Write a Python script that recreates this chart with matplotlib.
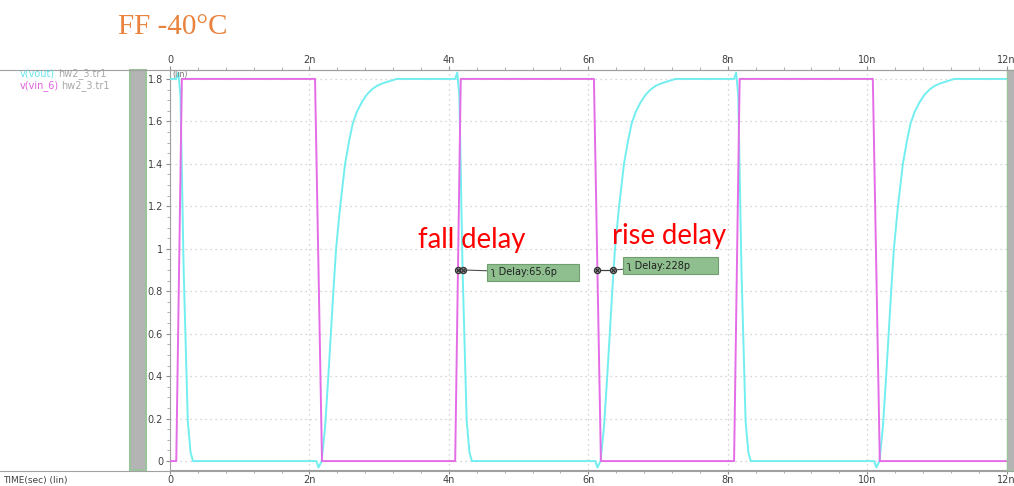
import numpy as np
import matplotlib.pyplot as plt
from matplotlib.ticker import MultipleLocator, FixedLocator
from matplotlib.patches import Rectangle
from matplotlib.lines import Line2D

# time in ns, voltage in V
vin_rise_t = [0.13, 4.13, 8.13]
vin_fall_t = [2.13, 6.13, 10.13]
vin_edge_dt = [-0.04, 0.04]          # rise / fall ramp ends around the 0.9V crossing
vin_fall_dt = [-0.05, 0.05]

# vout shapes read around each vin edge (dt from vin 0.9V crossing)
vout_fall_dt = [-0.04, -0.01, 0.02, 0.066, 0.125, 0.165, 0.2]
vout_fall_v = [1.80, 1.83, 1.72, 0.90, 0.19, 0.04, 0.0]
vout_rise_dt = [-0.03, 0.0, 0.045, 0.094, 0.141, 0.213, 0.252, 0.309, 0.381, 0.44, 0.491, 0.55,
                0.62, 0.69, 0.763, 0.84, 0.926, 1.12]
vout_rise_v = [0.0, -0.03, 0.0, 0.16, 0.40, 0.80, 1.0, 1.195, 1.40, 1.51, 1.59, 1.645,
               1.69, 1.725, 1.75, 1.768, 1.78, 1.80]

fall_delay = 65.6   # ps, at vin edge 4.13n
rise_delay = 228    # ps, at vin edge 6.13n
vdd_half = 0.9

xticks = [0, 2, 4, 6, 8, 10, 12]
xticklabels = ['0', '2n', '4n', '6n', '8n', '10n', '12n']

W, H = 1014, 486
def fx(x): return x / W
def fy(y): return 1 - y / H

# build waveforms
vin_t, vin_v = [0.0], [0.0]
for r, f in zip(vin_rise_t, vin_fall_t):
    vin_t += [r + vin_edge_dt[0], r + vin_edge_dt[1], f + vin_fall_dt[0], f + vin_fall_dt[1]]
    vin_v += [0.0, 1.8, 1.8, 0.0]
vin_t.append(12.0); vin_v.append(0.0)

vout_t, vout_v = [0.0], [1.8]
for r, f in zip(vin_rise_t, vin_fall_t):
    vout_t += [r + d for d in vout_fall_dt]; vout_v += vout_fall_v
    vout_t += [f + d for d in vout_rise_dt]; vout_v += vout_rise_v
vout_t.append(12.0); vout_v.append(1.8)

fig = plt.figure(figsize=(W / 100, H / 100), dpi=100)
ax = fig.add_axes([fx(170), fy(470), fx(1006.7) - fx(170), fy(70) - fy(470)])

cyan = '#72EEF0'
magenta = '#E46CE6'
ax.plot(vout_t, vout_v, color=cyan, lw=1.4, zorder=3)
ax.plot(vin_t, vin_v, color=magenta, lw=1.4, zorder=4)

ax.set_xlim(0, 12)
ax.set_ylim(-0.042, 1.842)

ax.xaxis.set_major_locator(FixedLocator(xticks))
ax.set_xticklabels(xticklabels)
ax.xaxis.set_minor_locator(MultipleLocator(0.4))
ax.yaxis.set_major_locator(MultipleLocator(0.2))
ax.yaxis.set_major_formatter(plt.FuncFormatter(lambda v, p: f'{v:g}'))
ax.yaxis.set_minor_locator(MultipleLocator(0.05))
ax.xaxis.set_ticks_position('both')
ax.tick_params(axis='x', which='both', labeltop=True, labelbottom=True)
ax.tick_params(which='major', direction='out', length=3, color='#909090',
               labelsize=7, labelcolor='#404040', pad=2)
ax.tick_params(axis='x', which='major', pad=0.5)
ax.tick_params(which='minor', direction='out', length=2, color='#a0a0a0')
ax.tick_params(axis='y', which='minor', left=True)
ax.grid(True, which='major', color='#c8c8c8', lw=0.9, ls=(0, (1, 3)))
for s in ax.spines.values():
    s.set_color('#a0a0a0')
    s.set_linewidth(0.8)
ax.spines['right'].set_visible(False)

# delay markers
t1, t2 = 4.13, 4.13 + fall_delay / 1000
t3, t4 = 6.13, 6.13 + rise_delay / 1000
for a, b in [(t1, t2), (t3, t4)]:
    ax.plot([a, b], [vdd_half, vdd_half], color='#404040', lw=0.9, zorder=5)
    ax.plot([a, b], [vdd_half, vdd_half], 'o', ms=4.5, mfc='#909090', mec='#303030', mew=0.8, zorder=6)
    ax.plot([a, b], [vdd_half, vdd_half], 'x', ms=3.5, color='#202020', mew=0.7, zorder=7)

box = dict(boxstyle='square,pad=0.35', fc='#8fbf8f', ec='#6f9f6f', lw=0.8)
ax.annotate('ʅ Delay:65.6p      ', xy=(t2, vdd_half), xytext=(4.6, 0.89),
            fontsize=7, color='#202020', va='center', ha='left', bbox=box,
            arrowprops=dict(arrowstyle='-', color='#505050', lw=0.8,
                            shrinkA=0, shrinkB=0), zorder=8)
ax.annotate('ʅ Delay:228p        ', xy=(t4, vdd_half), xytext=(6.55, 0.92),
            fontsize=7, color='#202020', va='center', ha='left', bbox=box,
            arrowprops=dict(arrowstyle='-', color='#505050', lw=0.8,
                            shrinkA=0, shrinkB=0), zorder=8)

ax.text(3.56, 1.04, 'fall delay', color='red', fontsize=19.8, family='Lato',
        ha='left', va='center', zorder=9)
ax.text(6.34, 1.06, 'rise delay', color='red', fontsize=19.8, family='Lato',
        ha='left', va='center', zorder=9)
ax.text(0.03, 1.82, '(lin)', color='#707070', fontsize=5.5, ha='left', va='center')

# window decorations
fig.add_artist(Line2D([0, 1], [fy(70), fy(70)], color='#a0a0a0', lw=0.8))
fig.add_artist(Line2D([0, 1], [fy(471), fy(471)], color='#a0a0a0', lw=0.8))
fig.add_artist(Rectangle((fx(130), fy(470)), fx(16), fy(70) - fy(470), fc='#b4b4b4', ec='#9cc49c', lw=1.5))
fig.add_artist(Rectangle((fx(1007), fy(470)), fx(8), fy(70) - fy(470), fc='#b4b4b4', ec='#9cc49c', lw=1.0))

fig.text(fx(20), fy(74), 'v(vout)', color='#66e4ec', fontsize=7, va='center')
fig.text(fx(58), fy(74), 'hw2_3.tr1', color='#a8a8a8', fontsize=7, va='center')
fig.text(fx(20), fy(86), 'v(vin_6)', color='#e060e0', fontsize=7, va='center')
fig.text(fx(61), fy(86), 'hw2_3.tr1', color='#a8a8a8', fontsize=7, va='center')
fig.text(fx(3), fy(480), 'TIME(sec) (lin)', color='#404040', fontsize=6.5, va='center')

fig.text(fx(118), fy(27), 'FF -40°C', color='#e8823c', fontsize=21,
         family='Liberation Serif', va='center', ha='left')

fig.savefig('out.png', dpi=100)
